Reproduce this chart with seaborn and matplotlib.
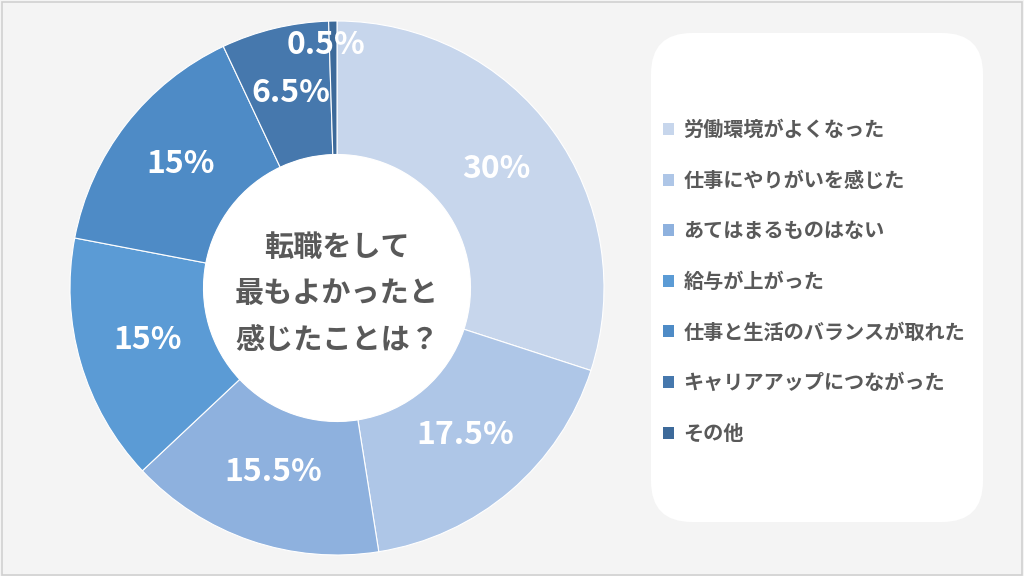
import matplotlib
matplotlib.use('Agg')
import matplotlib.pyplot as plt
import seaborn as sns
from matplotlib.patches import FancyBboxPatch, Rectangle, Circle

# Data
categories = ['労働環境がよくなった', '仕事にやりがいを感じた', 'あてはまるものはない',
              '給与が上がった', '仕事と生活のバランスが取れた', 'キャリアアップにつながった', 'その他']
values = [30, 17.5, 15.5, 15, 15, 6.5, 0.5]
colors = ['#c7d6ec', '#aec6e7', '#8eb1de', '#5b9bd5', '#4e8bc6', '#4678ad', '#3d6a9a']
center_title = '転職をして\n最もよかったと\n感じたことは？'

sns.set_theme(style='white')
plt.rcParams['font.family'] = ['Noto Sans CJK JP', 'DejaVu Sans']

fig = plt.figure(figsize=(10.24, 5.76), dpi=100)
fig.patch.set_facecolor('#f4f4f4')
fig.patches.append(Rectangle((0.002, 0.002), 0.996, 0.994, transform=fig.transFigure,
                             fill=False, edgecolor='#d0d0d0', linewidth=1.2))

# Legend panel
fig.patches.append(FancyBboxPatch((651 / 1024, (576 - 522) / 576), 332 / 1024, 489 / 576,
                                  boxstyle='round,pad=0,rounding_size=0.04',
                                  transform=fig.transFigure, facecolor='white',
                                  edgecolor='none', mutation_aspect=1024 / 576))

ax = fig.add_axes([70 / 1024, 21 / 576, 534 / 1024, 534 / 576])
wedges, texts, autotexts = ax.pie(
    values, colors=colors, startangle=90, counterclock=False, radius=1,
    wedgeprops=dict(width=0.5, edgecolor='white', linewidth=0.8),
    autopct=lambda p: f'{round(p, 1):g}%', pctdistance=0.74,
    textprops=dict(color='white', fontsize=23, fontweight='bold'))
for t in autotexts:
    x, y = t.get_position()
    t.set_position((x, y + 0.012))
# the tiny slice label sits further out
autotexts[-1].set_position((-0.04, 0.91))
ax.add_patch(Circle((0, 0), 0.5, facecolor='white', edgecolor='none'))
ax.text(0, -0.02, center_title, ha='center', va='center', fontsize=21, fontweight='bold',
        color='#595959', linespacing=1.68)
ax.set_xlim(-1, 1)
ax.set_ylim(-1, 1)
ax.set_aspect('equal')
ax.axis('off')

leg = fig.legend(wedges, categories, loc='upper left',
                 bbox_to_anchor=(645 / 1024, (576 - 101) / 576), frameon=False,
                 prop=dict(size=14.5, weight='bold'), labelcolor='#595959',
                 handlelength=0.55, handleheight=0.55, handletextpad=0.45, labelspacing=1.47)
for h in leg.legend_handles:
    h.set_edgecolor('none')

fig.savefig('out.png', dpi=100, facecolor=fig.get_facecolor())
